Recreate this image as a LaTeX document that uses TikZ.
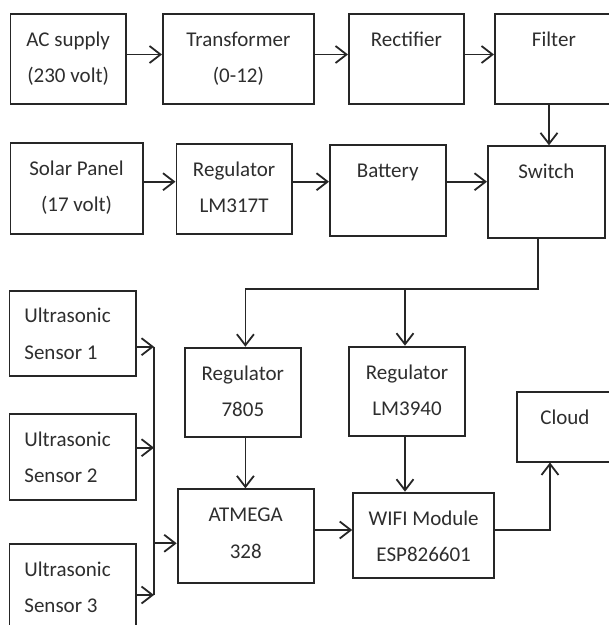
\documentclass[tikz,border=0pt]{standalone}
\usepackage{fontspec}
\setmainfont{Carlito}
\usetikzlibrary{arrows.meta}
\newcommand\blkc[3]{\parbox[c][#2pt][t]{#1pt}{\centering\rule{0pt}{32.5pt}#3\par}}
\newcommand\blkl[3]{\parbox[c][#2pt][t]{#1pt}{\raggedright\leftskip=15pt\rule{0pt}{32pt}#3\par}}
\definecolor{ln}{HTML}{262626}
\definecolor{tx}{HTML}{2E2E2E}
\tikzset{
  blk/.style={draw=ln, line width=1.8pt, inner sep=0pt, anchor=north west,
    text=tx, font=\fontsize{21}{36.5}\selectfont},
  arr/.style={draw=ln, line width=1.8pt,
    -{Straight Barb[length=11pt,width=17pt,line width=1.8pt]}},
  wire/.style={draw=ln, line width=1.8pt}
}
\begin{document}
\begin{tikzpicture}[x=1pt,y=-1pt]
\useasboundingbox (0,0) rectangle (609,625);
\fill[white] (0,0) rectangle (609,625);
\clip (0,0) rectangle (609,625);
% row 1
\node[blk] (ac)   at (9.5,13)  {\blkc{115.5}{90}{AC supply\\(230 volt)}};
\node[blk] (tr)   at (162,13)  {\blkc{151}{90}{Transformer\\(0-12)}};
\node[blk] (rect) at (348,13)  {\blkc{115}{90}{Rectifier}};
\node[blk] (filt) at (494,13)  {\blkc{118}{90}{Filter}};
% row 2
\node[blk] (solar) at (9.5,141.7)  {\blkc{132.2}{91.3}{Solar Panel\\(17 volt)}};
\node[blk] (reg1)  at (175.5,142.7){\blkc{115.5}{90.6}{Regulator\\LM317T}};
\node[blk] (batt)  at (329,144)    {\blkc{115.7}{91}{Battery}};
\node[blk] (sw)    at (487,145.3)  {\blkc{117}{91.4}{Switch}};
% sensors
\node[blk] (s1) at (8.5,290)   {\blkl{126.5}{85}{Ultrasonic\\Sensor 1}};
\node[blk] (s2) at (8.5,413.3) {\blkl{126.5}{85.7}{Ultrasonic\\Sensor 2}};
\node[blk] (s3) at (8.5,543.3) {\blkl{126.5}{110}{Ultrasonic\\Sensor 3}};
% regulators
\node[blk] (r7805) at (183.7,346.7) {\blkc{116.5}{89.3}{Regulator\\7805}};
\node[blk] (r3940) at (348.3,345.7) {\blkc{115.7}{89.3}{Regulator\\LM3940}};
\node[blk] (cloud) at (516,390.7)   {\blkc{96}{70}{Cloud}};
\node[blk] (atm)   at (176.7,488.3) {\blkc{136.3}{93.7}{ATMEGA\\328}};
\node[blk] (wifi)  at (352.2,491.7) {\blkc{141.1}{85.6}{WIFI Module\\ESP826601}};
% helper coordinates
\coordinate (y1) at (0,54.5);
\coordinate (y2) at (0,181.7);
\coordinate (xf) at (549,0);
\coordinate (xs) at (538,0);
\coordinate (hb) at (0,289.3);
\coordinate (xa) at (245.4,0);
\coordinate (xb) at (405,0);
\coordinate (bus) at (154,0);
\coordinate (ya) at (0,543.3);
\coordinate (yw) at (0,530);
\coordinate (xc) at (550,0);
% row 1 arrows
\draw[arr] (ac.east |- y1) -- (tr.west |- y1);
\draw[arr] (tr.east |- y1) -- (rect.west |- y1);
\draw[arr] (rect.east |- y1) -- (filt.west |- y1);
\draw[arr] (filt.south -| xf) -- (sw.north -| xf);
% row 2 arrows
\draw[arr] (solar.east |- y2) -- (reg1.west |- y2);
\draw[arr] (reg1.east |- y2) -- (batt.west |- y2);
\draw[arr] (batt.east |- y2) -- (sw.west |- y2);
% switch distribution
\coordinate (sa) at (xs |- hb);
\coordinate (sb) at (xa |- hb);
\coordinate (sc) at (xb |- hb);
\draw[wire] (sw.south -| xs) -- (sa) -- (sb);
\draw[arr] (sb) -- (r7805.north -| xa);
\draw[arr] (sc) -- (r3940.north -| xb);
% sensors bus
\coordinate (b1) at (154,346.7);
\coordinate (b2) at (154,447.7);
\coordinate (b3) at (154,595);
\coordinate (ba) at (bus |- ya);
\draw[wire] (b1) -- (b3);
\draw[arr] (s1.east |- b1) -- (b1);
\draw[arr] (s2.east |- b2) -- (b2);
\draw[arr] (s3.east |- b3) -- (b3);
\draw[arr] (ba) -- (atm.west |- ya);
% lower chain
\draw[arr] (r7805.south -| xa) -- (atm.north -| xa);
\draw[arr] (r3940.south -| xb) -- (wifi.north -| xb);
\draw[arr] (atm.east |- yw) -- (wifi.west |- yw);
\draw[arr] (wifi.east |- yw) -- (xc |- yw) -- (cloud.south -| xc);
\end{tikzpicture}
\end{document}
